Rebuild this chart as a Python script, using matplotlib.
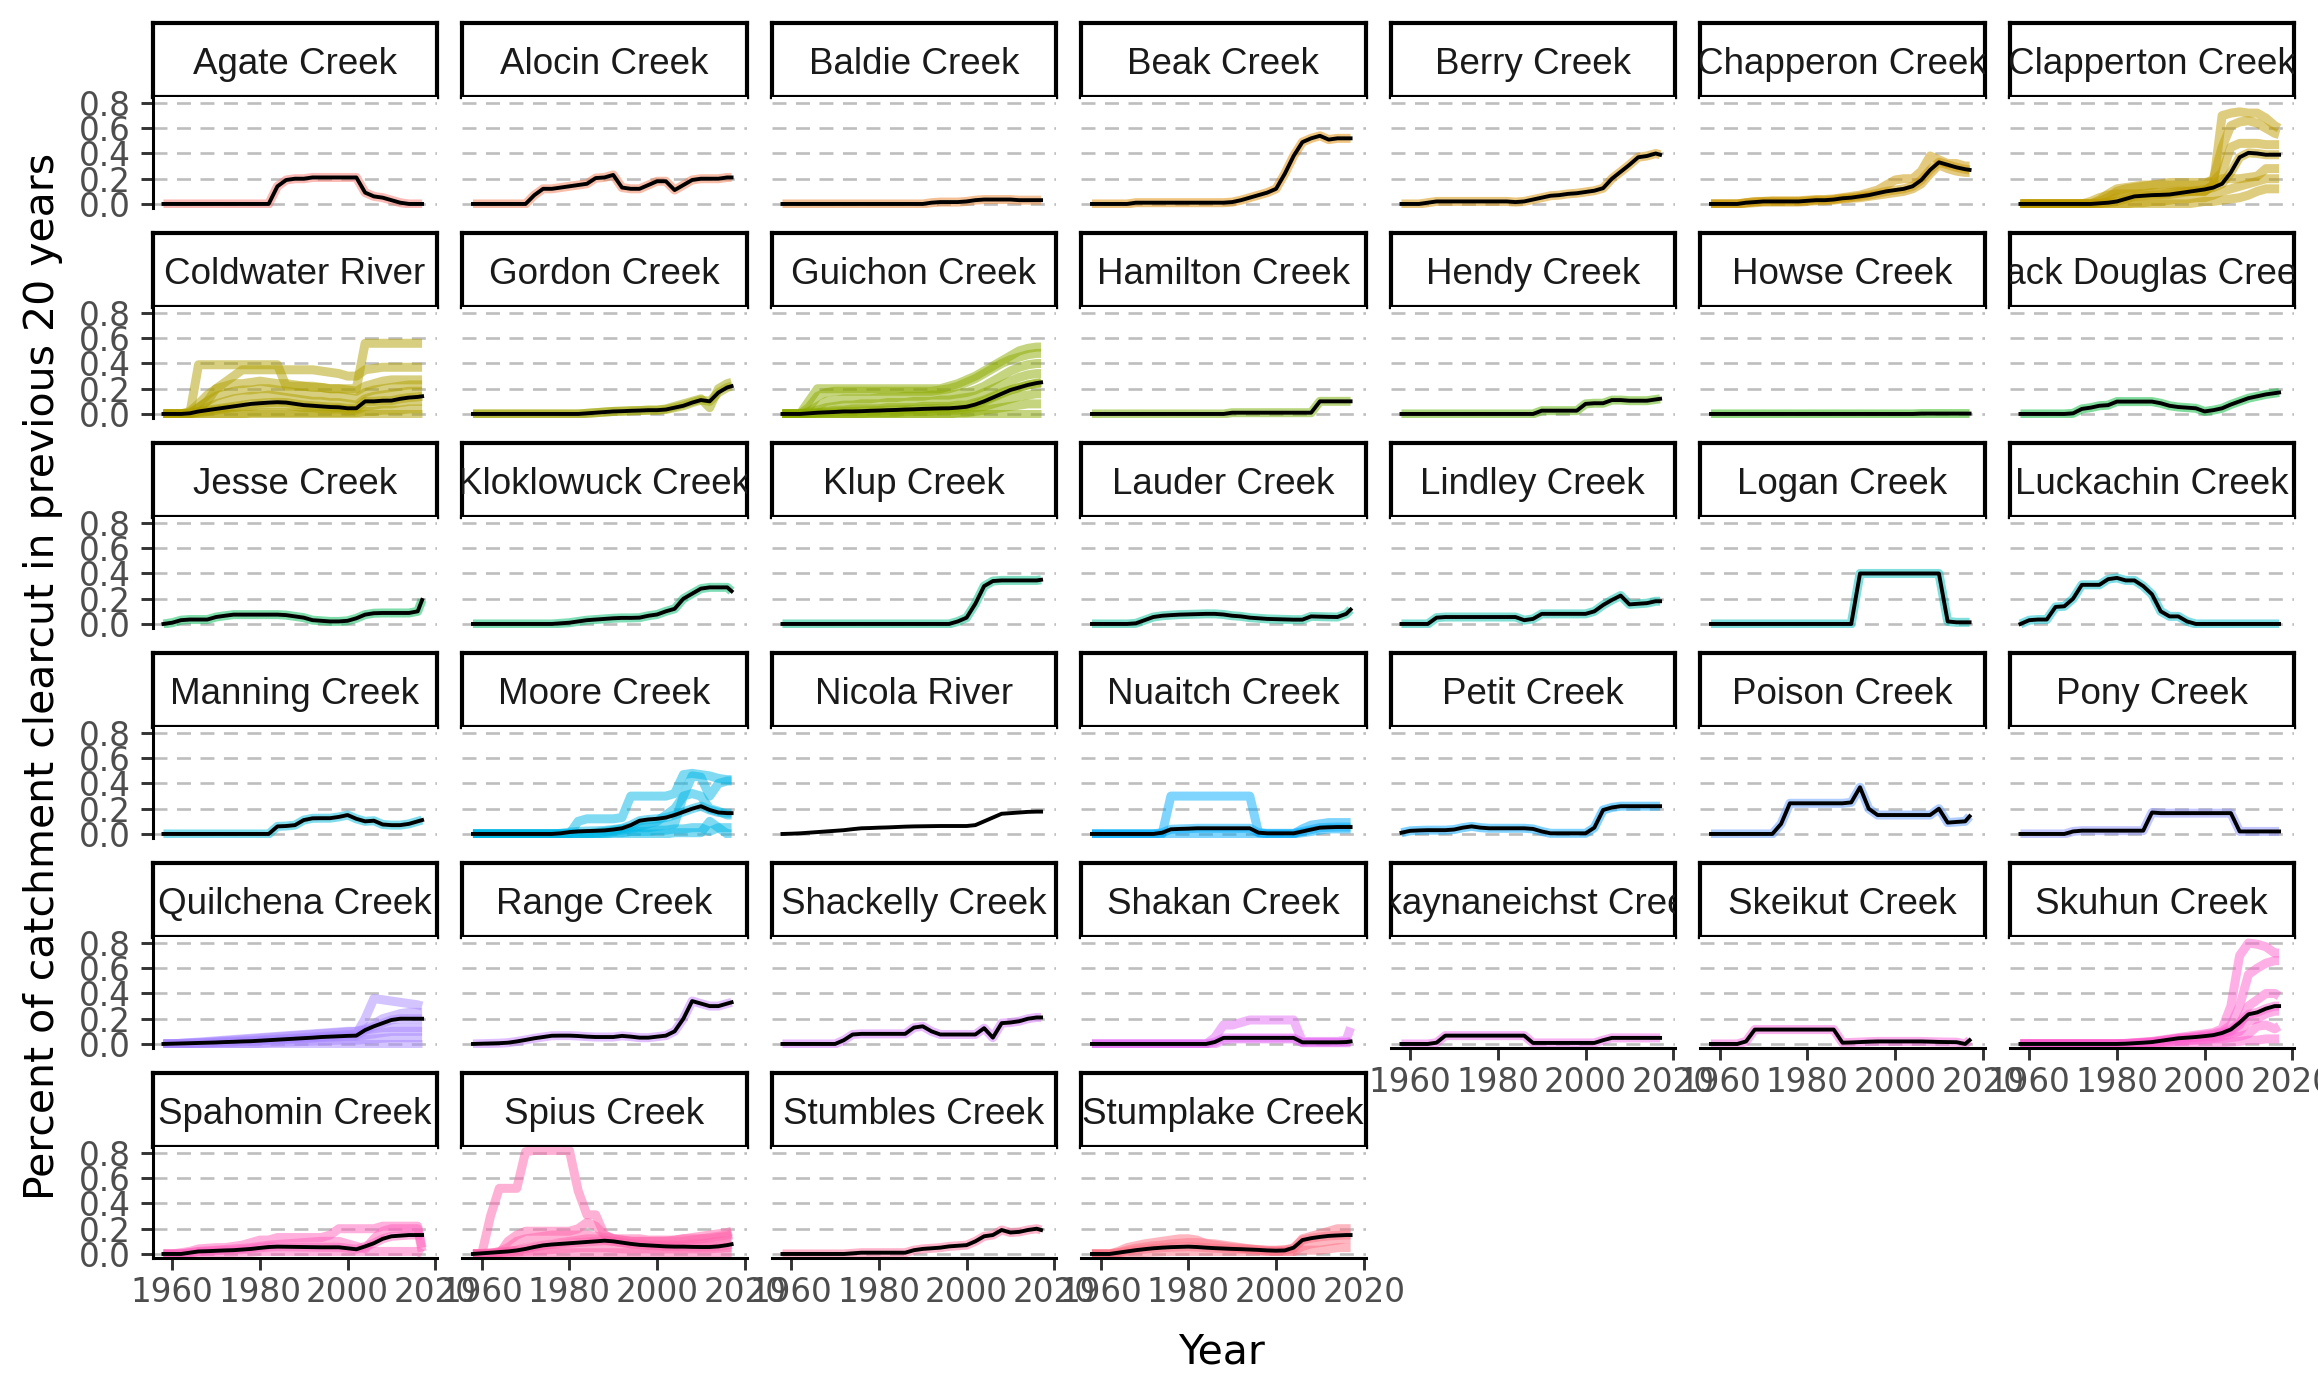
import numpy as np
import matplotlib
matplotlib.use("Agg")
import matplotlib.pyplot as plt

# shared year grid for every series
years = [1958, 1960, 1962, 1964, 1966, 1968, 1970, 1972, 1974, 1976,
         1978, 1980, 1982, 1984, 1986, 1988, 1990, 1992, 1994, 1996,
         1998, 2000, 2002, 2004, 2006, 2008, 2010, 2012, 2014, 2016,
         2017]

creeks = ["Agate Creek", "Alocin Creek", "Baldie Creek", "Beak Creek", "Berry Creek",
          "Chapperon Creek", "Clapperton Creek", "Coldwater River", "Gordon Creek",
          "Guichon Creek", "Hamilton Creek", "Hendy Creek", "Howse Creek",
          "Jack Douglas Creek", "Jesse Creek", "Kloklowuck Creek", "Klup Creek",
          "Lauder Creek", "Lindley Creek", "Logan Creek", "Luckachin Creek",
          "Manning Creek", "Moore Creek", "Nicola River", "Nuaitch Creek",
          "Petit Creek", "Poison Creek", "Pony Creek", "Quilchena Creek",
          "Range Creek", "Shackelly Creek", "Shakan Creek", "Skaynaneichst Creek",
          "Skeikut Creek", "Skuhun Creek", "Spahomin Creek", "Spius Creek",
          "Stumbles Creek", "Stumplake Creek"]

# catchment mean (black line) per creek
agate = [0, 0, 0, 0, 0, 0, 0, 0, 0, 0,
         0, 0, 0, 0.14, 0.19, 0.20, 0.20, 0.21, 0.21, 0.21,
         0.21, 0.21, 0.21, 0.09, 0.06, 0.05, 0.03, 0.01, 0, 0,
         0]
alocin = [0, 0, 0, 0, 0, 0, 0, 0.07, 0.12, 0.12,
          0.13, 0.14, 0.15, 0.16, 0.205, 0.21, 0.23, 0.13, 0.12, 0.12,
          0.15, 0.18, 0.18, 0.11, 0.15, 0.19, 0.2, 0.2, 0.2, 0.21,
          0.21]
baldie = [0, 0, 0, 0, 0, 0, 0, 0, 0, 0,
          0, 0, 0, 0, 0, 0, 0, 0.01, 0.015, 0.015,
          0.015, 0.02, 0.03, 0.035, 0.035, 0.035, 0.035, 0.03, 0.03, 0.03,
          0.03]
beak = [0, 0, 0, 0, 0, 0.01, 0.01, 0.01, 0.01, 0.01,
        0.01, 0.01, 0.01, 0.01, 0.01, 0.01, 0.015, 0.03, 0.05, 0.07,
        0.09, 0.12, 0.24, 0.38, 0.49, 0.52, 0.54, 0.51, 0.52, 0.52,
        0.52]
berry = [0, 0, 0, 0.01, 0.02, 0.02, 0.02, 0.02, 0.02, 0.02,
         0.02, 0.02, 0.02, 0.015, 0.02, 0.035, 0.05, 0.065, 0.07, 0.08,
         0.085, 0.095, 0.105, 0.125, 0.2, 0.255, 0.31, 0.37, 0.38, 0.4,
         0.39]
chapperon = [0, 0, 0, 0, 0.01, 0.015, 0.02, 0.02, 0.02, 0.02,
             0.02, 0.025, 0.03, 0.03, 0.035, 0.045, 0.05, 0.06, 0.07, 0.085,
             0.1, 0.11, 0.12, 0.14, 0.19, 0.27, 0.33, 0.31, 0.29, 0.275,
             0.27]
clapperton = [0, 0, 0, 0, 0, 0, 0, 0, 0, 0.005,
              0.01, 0.02, 0.04, 0.06, 0.065, 0.07, 0.072, 0.075, 0.085, 0.095,
              0.105, 0.115, 0.13, 0.16, 0.25, 0.37, 0.405, 0.4, 0.39, 0.39,
              0.39]
coldwater = [0, 0, 0, 0.005, 0.02, 0.03, 0.04, 0.05, 0.06, 0.07,
             0.08, 0.085, 0.09, 0.093, 0.09, 0.08, 0.07, 0.065, 0.06, 0.055,
             0.053, 0.045, 0.045, 0.1, 0.1, 0.105, 0.106, 0.12, 0.13, 0.135,
             0.14]
gordon = [0, 0, 0, 0, 0, 0, 0, 0, 0, 0,
          0, 0, 0, 0.005, 0.01, 0.015, 0.02, 0.022, 0.025, 0.027,
          0.03, 0.03, 0.035, 0.05, 0.065, 0.09, 0.11, 0.1, 0.17, 0.21,
          0.22]
guichon = [0, 0, 0, 0.005, 0.01, 0.013, 0.016, 0.02, 0.02, 0.022,
           0.025, 0.027, 0.03, 0.032, 0.035, 0.037, 0.04, 0.042, 0.044, 0.045,
           0.05, 0.057, 0.075, 0.1, 0.13, 0.16, 0.19, 0.21, 0.23, 0.245,
           0.25]
hamilton = [0, 0, 0, 0, 0, 0, 0, 0, 0, 0,
            0, 0, 0, 0, 0, 0, 0.01, 0.01, 0.01, 0.01,
            0.01, 0.01, 0.01, 0.01, 0.01, 0.01, 0.1, 0.1, 0.1, 0.1,
            0.1]
hendy = [0, 0, 0, 0, 0, 0, 0, 0, 0, 0,
         0, 0, 0, 0, 0, 0, 0.026, 0.026, 0.026, 0.026,
         0.026, 0.08, 0.085, 0.085, 0.11, 0.11, 0.105, 0.105, 0.105, 0.115,
         0.12]
howse = [0, 0, 0, 0, 0, 0, 0, 0, 0, 0,
         0, 0, 0, 0, 0, 0, 0, 0, 0, 0,
         0, 0, 0, 0, 0.003, 0.003, 0.003, 0.003, 0.003, 0.003,
         0.003]
jack_douglas = [0, 0, 0, 0, 0, 0, 0.005, 0.04, 0.05, 0.065,
                0.07, 0.098, 0.098, 0.098, 0.098, 0.098, 0.085, 0.065, 0.055, 0.05,
                0.045, 0.02, 0.03, 0.045, 0.075, 0.1, 0.125, 0.14, 0.155, 0.165,
                0.17]
jesse = [0, 0.01, 0.03, 0.035, 0.035, 0.035, 0.055, 0.065, 0.074, 0.074,
         0.074, 0.074, 0.074, 0.074, 0.07, 0.06, 0.05, 0.03, 0.025, 0.02,
         0.02, 0.025, 0.045, 0.074, 0.085, 0.087, 0.087, 0.087, 0.087, 0.1,
         0.19]
kloklowuck = [0, 0, 0, 0, 0, 0, 0, 0, 0, 0,
              0.005, 0.01, 0.02, 0.03, 0.035, 0.04, 0.045, 0.048, 0.048, 0.05,
              0.065, 0.075, 0.1, 0.12, 0.2, 0.24, 0.28, 0.29, 0.29, 0.29,
              0.26]
klup = [0, 0, 0, 0, 0, 0, 0, 0, 0, 0,
        0, 0, 0, 0, 0, 0, 0, 0, 0, 0,
        0.02, 0.05, 0.16, 0.3, 0.34, 0.345, 0.345, 0.345, 0.345, 0.345,
        0.35]
lauder = [0, 0, 0, 0, 0, 0.005, 0.03, 0.055, 0.065, 0.07,
          0.074, 0.076, 0.078, 0.08, 0.08, 0.075, 0.065, 0.06, 0.05, 0.045,
          0.04, 0.038, 0.036, 0.034, 0.034, 0.06, 0.058, 0.056, 0.055, 0.08,
          0.114]
lindley = [0, 0, 0, 0, 0.05, 0.055, 0.055, 0.055, 0.055, 0.055,
           0.055, 0.055, 0.055, 0.055, 0.03, 0.04, 0.08, 0.08, 0.08, 0.08,
           0.08, 0.08, 0.1, 0.15, 0.19, 0.225, 0.155, 0.16, 0.165, 0.18,
           0.18]
logan = [0, 0, 0, 0, 0, 0, 0, 0, 0, 0,
         0, 0, 0, 0, 0, 0, 0, 0.4, 0.4, 0.4,
         0.4, 0.4, 0.4, 0.4, 0.4, 0.4, 0.4, 0.02, 0.013, 0.013,
         0.013]
luckachin = [0, 0.03, 0.035, 0.035, 0.135, 0.14, 0.2, 0.31, 0.31, 0.31,
             0.355, 0.365, 0.345, 0.345, 0.3, 0.235, 0.1, 0.06, 0.06, 0.02,
             0, 0, 0, 0, 0, 0, 0, 0, 0, 0,
             0]
manning = [0, 0, 0, 0, 0, 0, 0, 0, 0, 0,
           0, 0, 0, 0.06, 0.063, 0.07, 0.11, 0.124, 0.125, 0.125,
           0.135, 0.15, 0.12, 0.1, 0.105, 0.075, 0.07, 0.07, 0.08, 0.1,
           0.11]
moore = [0, 0, 0, 0, 0, 0, 0, 0, 0, 0,
         0.005, 0.015, 0.02, 0.023, 0.025, 0.028, 0.035, 0.045, 0.07, 0.105,
         0.115, 0.12, 0.13, 0.15, 0.175, 0.2, 0.22, 0.19, 0.17, 0.165,
         0.165]
nicola = [0, 0.002, 0.005, 0.01, 0.015, 0.02, 0.025, 0.03, 0.038, 0.045,
          0.047, 0.05, 0.052, 0.055, 0.058, 0.06, 0.061, 0.062, 0.063, 0.063,
          0.063, 0.063, 0.07, 0.1, 0.13, 0.16, 0.165, 0.17, 0.175, 0.177,
          0.177]
nuaitch = [0, 0, 0, 0, 0, 0, 0, 0, 0.01, 0.037,
           0.04, 0.042, 0.045, 0.045, 0.045, 0.045, 0.045, 0.045, 0.045, 0.01,
           0.005, 0.005, 0.005, 0.005, 0.02, 0.035, 0.05, 0.053, 0.055, 0.055,
           0.055]
petit = [0.01, 0.025, 0.028, 0.03, 0.03, 0.03, 0.035, 0.05, 0.06, 0.05,
         0.045, 0.045, 0.045, 0.045, 0.045, 0.04, 0.02, 0.005, 0.005, 0.005,
         0.005, 0.005, 0.05, 0.19, 0.21, 0.22, 0.22, 0.22, 0.22, 0.22,
         0.22]
poison = [0, 0, 0, 0, 0, 0, 0, 0, 0.08, 0.243,
          0.243, 0.243, 0.243, 0.243, 0.243, 0.243, 0.25, 0.37, 0.2, 0.15,
          0.15, 0.15, 0.15, 0.15, 0.15, 0.15, 0.2, 0.09, 0.095, 0.1,
          0.14]
pony = [0, 0, 0, 0, 0, 0, 0.02, 0.026, 0.026, 0.026,
        0.026, 0.026, 0.026, 0.026, 0.026, 0.17, 0.165, 0.165, 0.165, 0.165,
        0.165, 0.165, 0.165, 0.165, 0.165, 0.02, 0.02, 0.02, 0.02, 0.02,
        0.02]
quilchena = [0, 0.002, 0.004, 0.006, 0.008, 0.01, 0.012, 0.015, 0.017, 0.02,
             0.022, 0.026, 0.03, 0.034, 0.038, 0.042, 0.046, 0.05, 0.055, 0.058,
             0.061, 0.064, 0.066, 0.11, 0.14, 0.165, 0.19, 0.2, 0.2, 0.2,
             0.2]
range_creek = [0, 0.002, 0.004, 0.006, 0.01, 0.02, 0.032, 0.045, 0.055, 0.065,
               0.066, 0.066, 0.063, 0.058, 0.055, 0.055, 0.055, 0.064, 0.058, 0.05,
               0.05, 0.058, 0.066, 0.1, 0.2, 0.34, 0.32, 0.3, 0.3, 0.32,
               0.33]
shackelly = [0, 0, 0, 0, 0, 0, 0, 0.03, 0.075, 0.08,
             0.08, 0.08, 0.08, 0.08, 0.08, 0.13, 0.14, 0.1, 0.075, 0.075,
             0.075, 0.075, 0.075, 0.125, 0.05, 0.165, 0.17, 0.18, 0.2, 0.21,
             0.21]
shakan = [0, 0, 0, 0, 0, 0, 0, 0, 0, 0,
          0, 0, 0, 0, 0.015, 0.048, 0.048, 0.048, 0.048, 0.048,
          0.048, 0.048, 0.048, 0.048, 0.013, 0.013, 0.013, 0.013, 0.013, 0.015,
          0.02]
skaynaneichst = [0, 0, 0, 0, 0.01, 0.066, 0.066, 0.066, 0.066, 0.066,
                 0.066, 0.066, 0.066, 0.066, 0.066, 0.008, 0.008, 0.008, 0.008, 0.008,
                 0.008, 0.008, 0.008, 0.03, 0.048, 0.048, 0.048, 0.048, 0.048, 0.048,
                 0.048]
skeikut = [0, 0, 0, 0, 0.02, 0.114, 0.114, 0.114, 0.114, 0.114,
           0.114, 0.114, 0.114, 0.114, 0.114, 0.01, 0.012, 0.015, 0.018, 0.02,
           0.02, 0.02, 0.02, 0.02, 0.02, 0.018, 0.016, 0.015, 0.014, 0.0,
           0.03]
skuhun = [0, 0, 0, 0, 0, 0, 0, 0, 0, 0,
          0, 0, 0.002, 0.006, 0.01, 0.015, 0.025, 0.035, 0.045, 0.05,
          0.055, 0.062, 0.07, 0.087, 0.115, 0.17, 0.235, 0.25, 0.28, 0.3,
          0.3]
spahomin = [0, 0, 0, 0.01, 0.02, 0.022, 0.025, 0.028, 0.03, 0.035,
            0.04, 0.048, 0.055, 0.058, 0.057, 0.056, 0.055, 0.054, 0.053, 0.053,
            0.053, 0.045, 0.037, 0.06, 0.085, 0.12, 0.14, 0.145, 0.15, 0.15,
            0.15]
spius = [0, 0.005, 0.01, 0.015, 0.02, 0.028, 0.04, 0.055, 0.068, 0.075,
         0.08, 0.085, 0.09, 0.095, 0.1, 0.105, 0.1, 0.09, 0.08, 0.072,
         0.068, 0.064, 0.06, 0.058, 0.058, 0.056, 0.055, 0.055, 0.06, 0.07,
         0.077]
stumbles = [0, 0, 0, 0, 0, 0, 0, 0, 0.005, 0.01,
            0.01, 0.01, 0.01, 0.01, 0.01, 0.03, 0.04, 0.045, 0.05, 0.06,
            0.065, 0.07, 0.1, 0.14, 0.15, 0.19, 0.17, 0.175, 0.19, 0.2,
            0.19]
stumplake = [0, 0, 0, 0.01, 0.02, 0.03, 0.038, 0.045, 0.05, 0.054,
             0.056, 0.058, 0.055, 0.05, 0.046, 0.043, 0.04, 0.038, 0.035, 0.032,
             0.028, 0.026, 0.028, 0.05, 0.11, 0.125, 0.135, 0.143, 0.147, 0.15,
             0.15]

means = [agate, alocin, baldie, beak, berry, chapperon, clapperton, coldwater,
         gordon, guichon, hamilton, hendy, howse, jack_douglas, jesse, kloklowuck,
         klup, lauder, lindley, logan, luckachin, manning, moore, nicola, nuaitch,
         petit, poison, pony, quilchena, range_creek, shackelly, shakan,
         skaynaneichst, skeikut, skuhun, spahomin, spius, stumbles, stumplake]

# extra sub-basin series (coloured lines) for the creeks that have them
chapperon_subs = [
    [0, 0, 0, 0, 0.01, 0.02, 0.02, 0.025, 0.025, 0.025,
     0.025, 0.03, 0.035, 0.035, 0.04, 0.05, 0.06, 0.07, 0.09, 0.11,
     0.15, 0.19, 0.2, 0.2, 0.26, 0.38, 0.35, 0.32, 0.32, 0.3, 0.3],
    [0, 0, 0, 0, 0.005, 0.01, 0.015, 0.015, 0.015, 0.015,
     0.015, 0.02, 0.025, 0.025, 0.03, 0.04, 0.045, 0.05, 0.06, 0.07,
     0.08, 0.09, 0.1, 0.12, 0.16, 0.24, 0.31, 0.28, 0.26, 0.25, 0.25],
]
clapperton_subs = [
    [0, 0, 0, 0, 0, 0, 0, 0, 0.02, 0.05,
     0.07, 0.08, 0.08, 0.08, 0.08, 0.09, 0.09, 0.1, 0.1, 0.1,
     0.1, 0.1, 0.15, 0.7, 0.72, 0.73, 0.72, 0.72, 0.68, 0.62, 0.6],
    [0, 0, 0, 0, 0, 0, 0, 0, 0, 0.03,
     0.08, 0.12, 0.13, 0.14, 0.15, 0.15, 0.15, 0.15, 0.15, 0.15,
     0.15, 0.15, 0.2, 0.45, 0.62, 0.65, 0.66, 0.64, 0.6, 0.56, 0.55],
    [0, 0, 0, 0, 0, 0, 0, 0, 0, 0.02,
     0.05, 0.1, 0.12, 0.13, 0.14, 0.15, 0.16, 0.17, 0.17, 0.17,
     0.17, 0.17, 0.18, 0.25, 0.45, 0.48, 0.48, 0.48, 0.47, 0.47, 0.47],
    [0, 0, 0, 0, 0, 0, 0, 0, 0, 0,
     0.02, 0.05, 0.06, 0.07, 0.08, 0.08, 0.08, 0.09, 0.1, 0.1,
     0.1, 0.1, 0.15, 0.2, 0.2, 0.2, 0.21, 0.22, 0.28, 0.28, 0.28],
    [0, 0, 0, 0, 0, 0, 0, 0, 0, 0,
     0, 0, 0, 0.01, 0.01, 0.02, 0.02, 0.03, 0.04, 0.04,
     0.05, 0.05, 0.07, 0.1, 0.12, 0.14, 0.16, 0.18, 0.2, 0.2, 0.2],
    [0, 0, 0, 0, 0, 0, 0, 0, 0, 0,
     0, 0, 0, 0, 0, 0, 0, 0, 0, 0,
     0.01, 0.02, 0.02, 0.03, 0.04, 0.05, 0.07, 0.1, 0.12, 0.12, 0.12],
]
coldwater_subs = [
    [0, 0, 0, 0, 0.39, 0.39, 0.39, 0.39, 0.39, 0.39,
     0.39, 0.39, 0.39, 0.39, 0.22, 0.22, 0.22, 0.21, 0.21, 0.2,
     0.2, 0.2, 0.2, 0.56, 0.56, 0.56, 0.56, 0.56, 0.56, 0.56, 0.56],
    [0, 0, 0, 0, 0.05, 0.1, 0.2, 0.25, 0.3, 0.35,
     0.35, 0.35, 0.35, 0.35, 0.35, 0.35, 0.35, 0.35, 0.34, 0.33,
     0.32, 0.3, 0.3, 0.35, 0.36, 0.37, 0.37, 0.37, 0.37, 0.37, 0.37],
    [0, 0, 0, 0.02, 0.08, 0.15, 0.2, 0.22, 0.24, 0.24,
     0.25, 0.26, 0.25, 0.24, 0.24, 0.23, 0.22, 0.22, 0.21, 0.2,
     0.2, 0.19, 0.18, 0.22, 0.24, 0.26, 0.27, 0.27, 0.27, 0.27, 0.27],
    [0, 0, 0, 0.01, 0.05, 0.1, 0.14, 0.16, 0.18, 0.19,
     0.19, 0.2, 0.2, 0.19, 0.18, 0.17, 0.16, 0.15, 0.15, 0.14,
     0.14, 0.13, 0.12, 0.17, 0.19, 0.2, 0.21, 0.22, 0.23, 0.23, 0.23],
    [0, 0, 0, 0, 0.02, 0.05, 0.08, 0.1, 0.12, 0.13,
     0.14, 0.14, 0.15, 0.14, 0.13, 0.12, 0.11, 0.1, 0.1, 0.09,
     0.09, 0.08, 0.07, 0.12, 0.14, 0.15, 0.16, 0.17, 0.18, 0.18, 0.18],
    [0, 0, 0, 0, 0.01, 0.02, 0.03, 0.04, 0.05, 0.06,
     0.06, 0.07, 0.07, 0.07, 0.07, 0.06, 0.05, 0.05, 0.04, 0.04,
     0.04, 0.03, 0.03, 0.06, 0.07, 0.08, 0.08, 0.09, 0.1, 0.1, 0.1],
    [0, 0, 0, 0, 0, 0, 0, 0, 0, 0,
     0.01, 0.01, 0.01, 0.01, 0.01, 0.01, 0.01, 0.01, 0.01, 0.01,
     0.01, 0.01, 0.01, 0.02, 0.02, 0.03, 0.03, 0.03, 0.04, 0.04, 0.04],
    [0, 0, 0, 0, 0, 0, 0, 0, 0, 0,
     0, 0, 0, 0, 0, 0, 0, 0, 0, 0,
     0, 0, 0, 0, 0, 0, 0, 0, 0, 0, 0],
]
gordon_subs = [
    [0, 0, 0, 0, 0, 0, 0, 0, 0, 0,
     0, 0, 0, 0.005, 0.01, 0.015, 0.02, 0.022, 0.025, 0.027,
     0.03, 0.03, 0.04, 0.06, 0.08, 0.1, 0.12, 0.05, 0.2, 0.24, 0.25],
]
guichon_subs = [
    [0, 0, 0, 0.1, 0.2, 0.2, 0.2, 0.2, 0.2, 0.2,
     0.2, 0.2, 0.2, 0.2, 0.2, 0.2, 0.2, 0.2, 0.2, 0.22,
     0.24, 0.27, 0.3, 0.34, 0.38, 0.42, 0.46, 0.5, 0.52, 0.53, 0.53],
    [0, 0, 0, 0.05, 0.14, 0.17, 0.18, 0.18, 0.18, 0.18,
     0.18, 0.18, 0.18, 0.18, 0.18, 0.18, 0.18, 0.18, 0.19, 0.2,
     0.22, 0.25, 0.28, 0.32, 0.36, 0.4, 0.43, 0.45, 0.47, 0.48, 0.48],
    [0, 0, 0, 0.02, 0.06, 0.1, 0.11, 0.12, 0.12, 0.12,
     0.12, 0.13, 0.13, 0.13, 0.14, 0.14, 0.14, 0.15, 0.15, 0.15,
     0.16, 0.17, 0.19, 0.22, 0.26, 0.3, 0.34, 0.37, 0.39, 0.4, 0.4],
    [0, 0, 0, 0.01, 0.03, 0.05, 0.06, 0.07, 0.07, 0.08,
     0.08, 0.08, 0.09, 0.09, 0.09, 0.1, 0.1, 0.1, 0.11, 0.11,
     0.12, 0.13, 0.14, 0.17, 0.2, 0.23, 0.26, 0.29, 0.31, 0.32, 0.32],
    [0, 0, 0, 0, 0.01, 0.02, 0.03, 0.03, 0.04, 0.04,
     0.04, 0.04, 0.05, 0.05, 0.05, 0.05, 0.06, 0.06, 0.06, 0.06,
     0.07, 0.07, 0.09, 0.11, 0.14, 0.17, 0.19, 0.21, 0.23, 0.24, 0.24],
    [0, 0, 0, 0, 0, 0, 0, 0, 0, 0,
     0.01, 0.01, 0.01, 0.01, 0.02, 0.02, 0.02, 0.02, 0.03, 0.03,
     0.03, 0.04, 0.05, 0.06, 0.08, 0.1, 0.12, 0.14, 0.15, 0.16, 0.16],
    [0, 0, 0, 0, 0, 0, 0, 0, 0, 0,
     0, 0, 0, 0, 0, 0, 0, 0, 0, 0,
     0.01, 0.01, 0.02, 0.03, 0.04, 0.05, 0.06, 0.07, 0.08, 0.08, 0.08],
    [0, 0, 0, 0, 0, 0, 0, 0, 0, 0,
     0, 0, 0, 0, 0, 0, 0, 0, 0, 0,
     0, 0, 0, 0, 0, 0, 0, 0, 0, 0, 0],
]
moore_subs = [
    [0, 0, 0, 0, 0, 0, 0, 0, 0, 0,
     0, 0, 0.1, 0.12, 0.12, 0.12, 0.12, 0.13, 0.3, 0.3,
     0.3, 0.3, 0.3, 0.32, 0.47, 0.48, 0.47, 0.46, 0.44, 0.43, 0.43],
    [0, 0, 0, 0, 0, 0, 0, 0, 0, 0,
     0, 0, 0, 0, 0.01, 0.02, 0.03, 0.04, 0.05, 0.06,
     0.08, 0.1, 0.15, 0.2, 0.3, 0.46, 0.45, 0.3, 0.4, 0.42, 0.42],
    [0, 0, 0, 0, 0, 0, 0, 0, 0, 0,
     0, 0, 0, 0, 0, 0.01, 0.02, 0.03, 0.04, 0.05,
     0.05, 0.06, 0.07, 0.08, 0.3, 0.32, 0.3, 0.2, 0.18, 0.15, 0.15],
    [0, 0, 0, 0, 0, 0, 0, 0, 0, 0,
     0, 0, 0, 0, 0, 0, 0.01, 0.01, 0.02, 0.02,
     0.02, 0.03, 0.03, 0.04, 0.04, 0.05, 0.05, 0.02, 0.05, 0.05, 0.05],
    [0, 0, 0, 0, 0, 0, 0, 0, 0, 0,
     0, 0, 0, 0, 0, 0, 0, 0, 0, 0,
     0, 0, 0, 0.01, 0.01, 0.01, 0.01, 0.1, 0.05, 0, 0],
]
nuaitch_subs = [
    [0, 0, 0, 0, 0, 0, 0, 0, 0, 0.3,
     0.3, 0.3, 0.3, 0.3, 0.3, 0.3, 0.3, 0.3, 0.3, 0.01,
     0, 0, 0, 0, 0.04, 0.07, 0.08, 0.09, 0.09, 0.09, 0.09],
    [0, 0, 0, 0, 0, 0, 0, 0, 0, 0,
     0, 0, 0, 0, 0, 0, 0, 0, 0, 0,
     0, 0, 0, 0, 0.01, 0.02, 0.03, 0.04, 0.04, 0.04, 0.04],
]
quilchena_subs = [
    [0, 0.002, 0.005, 0.008, 0.01, 0.012, 0.015, 0.02, 0.022, 0.025,
     0.028, 0.032, 0.036, 0.04, 0.044, 0.048, 0.052, 0.056, 0.06, 0.065,
     0.07, 0.075, 0.08, 0.2, 0.36, 0.35, 0.34, 0.33, 0.32, 0.31, 0.3],
    [0, 0, 0.005, 0.01, 0.015, 0.02, 0.025, 0.03, 0.035, 0.04,
     0.045, 0.05, 0.055, 0.06, 0.065, 0.07, 0.075, 0.08, 0.085, 0.09,
     0.095, 0.1, 0.1, 0.12, 0.16, 0.2, 0.22, 0.24, 0.25, 0.25, 0.25],
    [0, 0, 0, 0.005, 0.01, 0.015, 0.02, 0.025, 0.03, 0.035,
     0.04, 0.045, 0.05, 0.055, 0.06, 0.065, 0.07, 0.075, 0.08, 0.085,
     0.09, 0.095, 0.1, 0.11, 0.12, 0.13, 0.13, 0.13, 0.13, 0.13, 0.13],
    [0, 0, 0, 0, 0, 0.005, 0.01, 0.012, 0.015, 0.018,
     0.02, 0.025, 0.03, 0.033, 0.036, 0.04, 0.043, 0.046, 0.05, 0.053,
     0.056, 0.06, 0.06, 0.07, 0.08, 0.09, 0.1, 0.1, 0.1, 0.1, 0.1],
    [0, 0, 0, 0, 0, 0, 0, 0, 0, 0,
     0, 0.005, 0.01, 0.012, 0.015, 0.018, 0.02, 0.022, 0.025, 0.027,
     0.03, 0.03, 0.03, 0.035, 0.04, 0.045, 0.05, 0.05, 0.05, 0.05, 0.05],
    [0, 0, 0, 0, 0, 0, 0, 0, 0, 0,
     0, 0, 0, 0, 0, 0, 0, 0, 0, 0,
     0, 0, 0, 0, 0, 0, 0, 0, 0, 0, 0],
]
shakan_subs = [
    [0, 0, 0, 0, 0, 0, 0, 0, 0, 0,
     0, 0, 0, 0, 0.05, 0.15, 0.15, 0.17, 0.19, 0.19,
     0.19, 0.19, 0.19, 0.19, 0.02, 0.02, 0.02, 0.02, 0.02, 0.03, 0.13],
    [0, 0, 0, 0, 0, 0, 0, 0, 0, 0,
     0, 0, 0, 0, 0, 0.03, 0.04, 0.04, 0.04, 0.04,
     0.04, 0.04, 0.04, 0.04, 0.01, 0.01, 0.01, 0.01, 0.01, 0.01, 0.01],
]
skuhun_subs = [
    [0, 0, 0, 0, 0, 0, 0, 0, 0, 0,
     0, 0, 0.005, 0.01, 0.015, 0.02, 0.03, 0.04, 0.05, 0.06,
     0.07, 0.08, 0.09, 0.12, 0.3, 0.7, 0.8, 0.79, 0.77, 0.72, 0.72],
    [0, 0, 0, 0, 0, 0, 0, 0, 0, 0,
     0, 0, 0.003, 0.008, 0.012, 0.017, 0.025, 0.035, 0.045, 0.05,
     0.06, 0.07, 0.08, 0.1, 0.15, 0.3, 0.55, 0.6, 0.64, 0.66, 0.66],
    [0, 0, 0, 0, 0, 0, 0, 0, 0, 0,
     0, 0, 0, 0.005, 0.01, 0.015, 0.02, 0.03, 0.04, 0.045,
     0.05, 0.055, 0.06, 0.08, 0.1, 0.15, 0.3, 0.35, 0.4, 0.4, 0.38],
    [0, 0, 0, 0, 0, 0, 0, 0, 0, 0,
     0, 0, 0, 0.003, 0.006, 0.01, 0.015, 0.02, 0.025, 0.03,
     0.035, 0.04, 0.045, 0.06, 0.08, 0.1, 0.18, 0.2, 0.24, 0.26, 0.26],
    [0, 0, 0, 0, 0, 0, 0, 0, 0, 0,
     0, 0, 0, 0, 0.003, 0.006, 0.01, 0.015, 0.02, 0.025,
     0.03, 0.035, 0.04, 0.04, 0.05, 0.06, 0.08, 0.14, 0.15, 0.12, 0.14],
    [0, 0, 0, 0, 0, 0, 0, 0, 0, 0,
     0, 0, 0, 0, 0, 0, 0, 0, 0, 0,
     0, 0, 0.005, 0.01, 0.015, 0.02, 0.03, 0.03, 0.04, 0.04, 0.04],
]
spahomin_subs = [
    [0, 0, 0.01, 0.02, 0.04, 0.045, 0.05, 0.05, 0.06, 0.07,
     0.09, 0.11, 0.11, 0.13, 0.13, 0.13, 0.13, 0.13, 0.13, 0.15,
     0.2, 0.2, 0.2, 0.2, 0.2, 0.22, 0.22, 0.22, 0.22, 0.22, 0.05],
    [0, 0, 0, 0.01, 0.02, 0.025, 0.03, 0.035, 0.04, 0.045,
     0.05, 0.06, 0.07, 0.075, 0.08, 0.085, 0.09, 0.095, 0.1, 0.1,
     0.1, 0.08, 0.06, 0.04, 0.12, 0.18, 0.2, 0.2, 0.2, 0.2, 0.02],
    [0, 0, 0, 0, 0.005, 0.01, 0.01, 0.01, 0.012, 0.015,
     0.015, 0.02, 0.02, 0.02, 0.02, 0.02, 0.02, 0.02, 0.02, 0.02,
     0.02, 0.02, 0.02, 0.02, 0.02, 0.02, 0.02, 0.02, 0.02, 0.02, 0],
]
spius_subs = [
    [0, 0, 0.3, 0.52, 0.52, 0.52, 0.81, 0.82, 0.82, 0.82,
     0.82, 0.82, 0.5, 0.31, 0.31, 0.15, 0.12, 0.12, 0.12, 0.12,
     0.11, 0.11, 0.11, 0.11, 0.12, 0.12, 0.12, 0.12, 0.13, 0.14, 0.15],
    [0, 0, 0, 0, 0.1, 0.15, 0.18, 0.18, 0.18, 0.18,
     0.18, 0.18, 0.2, 0.25, 0.22, 0.15, 0.12, 0.11, 0.1, 0.1,
     0.1, 0.1, 0.1, 0.1, 0.1, 0.11, 0.12, 0.13, 0.14, 0.15, 0.16],
    [0, 0, 0, 0.02, 0.05, 0.1, 0.12, 0.13, 0.14, 0.15,
     0.15, 0.15, 0.15, 0.15, 0.14, 0.13, 0.12, 0.11, 0.1, 0.1,
     0.1, 0.1, 0.1, 0.11, 0.12, 0.13, 0.14, 0.15, 0.16, 0.17, 0.18],
    [0, 0, 0.005, 0.01, 0.02, 0.03, 0.05, 0.06, 0.07, 0.08,
     0.09, 0.1, 0.11, 0.12, 0.12, 0.11, 0.1, 0.09, 0.08, 0.08,
     0.07, 0.07, 0.07, 0.07, 0.07, 0.08, 0.08, 0.09, 0.1, 0.1, 0.11],
    [0, 0, 0, 0.005, 0.01, 0.015, 0.02, 0.025, 0.03, 0.035,
     0.04, 0.045, 0.05, 0.05, 0.05, 0.05, 0.045, 0.04, 0.04, 0.04,
     0.04, 0.04, 0.04, 0.04, 0.04, 0.04, 0.04, 0.04, 0.045, 0.05, 0.05],
    [0, 0, 0, 0, 0, 0.01, 0.01, 0.01, 0.01, 0.01,
     0.01, 0.01, 0.01, 0.01, 0.01, 0.01, 0.01, 0.01, 0.01, 0.01,
     0.01, 0.01, 0.01, 0.01, 0.01, 0.01, 0.01, 0.01, 0.01, 0.01, 0.01],
]
stumplake_subs = [
    [0, 0, 0, 0.02, 0.05, 0.065, 0.08, 0.09, 0.1, 0.11,
     0.12, 0.12, 0.11, 0.08, 0.07, 0.06, 0.05, 0.045, 0.04, 0.035,
     0.03, 0.03, 0.035, 0.04, 0.12, 0.14, 0.16, 0.18, 0.2, 0.2, 0.2],
    [0, 0, 0, 0.01, 0.03, 0.045, 0.055, 0.065, 0.07, 0.08,
     0.085, 0.09, 0.09, 0.085, 0.08, 0.07, 0.06, 0.05, 0.04, 0.03,
     0.02, 0.02, 0.02, 0.02, 0.06, 0.08, 0.09, 0.1, 0.11, 0.12, 0.12],
    [0, 0, 0, 0, 0.005, 0.01, 0.012, 0.015, 0.018, 0.02,
     0.02, 0.02, 0.02, 0.02, 0.02, 0.02, 0.02, 0.02, 0.02, 0.02,
     0.02, 0.02, 0.02, 0.02, 0.03, 0.03, 0.03, 0.04, 0.05, 0.05, 0.05],
]

extra_subs = {
    "Chapperon Creek": chapperon_subs,
    "Clapperton Creek": clapperton_subs,
    "Coldwater River": coldwater_subs,
    "Gordon Creek": gordon_subs,
    "Guichon Creek": guichon_subs,
    "Moore Creek": moore_subs,
    "Nuaitch Creek": nuaitch_subs,
    "Quilchena Creek": quilchena_subs,
    "Shakan Creek": shakan_subs,
    "Skuhun Creek": skuhun_subs,
    "Spahomin Creek": spahomin_subs,
    "Spius Creek": spius_subs,
    "Stumplake Creek": stumplake_subs,
}
no_colour = ["Nicola River"]


def hcl_hex(h, c=100.0, l=65.0):
    # polar Luv -> sRGB, same as R's hcl() used by ggplot's hue palette
    hr = np.radians(h)
    u, v = c * np.cos(hr), c * np.sin(hr)
    y = ((l + 16) / 116) ** 3
    un, vn = 0.1978398, 0.4683363
    up = u / (13 * l) + un
    vp = v / (13 * l) + vn
    x = 9 * y * up / (4 * vp)
    z = y * (12 - 3 * up - 20 * vp) / (4 * vp)
    r = 3.240479 * x - 1.537150 * y - 0.498535 * z
    g = -0.969256 * x + 1.875992 * y + 0.041556 * z
    b = 0.055648 * x - 0.204043 * y + 1.057311 * z
    out = []
    for ch in (r, g, b):
        ch = 12.92 * ch if ch <= 0.0031308 else 1.055 * ch ** (1 / 2.4) - 0.055
        out.append(min(max(ch, 0), 1))
    return tuple(out)


colors = [hcl_hex(h) for h in np.linspace(15, 375, len(creeks) + 1)[:-1]]

W, H = 2318, 1396
fig = plt.figure(figsize=(W / 100, H / 100), dpi=100)


def rect(left, top, w, h):
    return [left / W, 1 - (top + h) / H, w / W, h / H]


ncol = 7
for k, name in enumerate(creeks):
    r, c = divmod(k, ncol)
    left = 152.5 + 309.5 * c
    top = 23 + 210 * r

    sax = fig.add_axes(rect(left, top, 284.5, 74))
    sax.set_xticks([])
    sax.set_yticks([])
    for sp in sax.spines.values():
        sp.set_linewidth(3.0)
        sp.set_color("black")
    sax.text(0.5, 0.31, name, ha="center", va="baseline", transform=sax.transAxes,
             fontsize=26.5, family="Liberation Sans", color="#1A1A1A", clip_on=True)

    ax = fig.add_axes(rect(left, top + 74, 284.5, 111))
    ax.set_xlim(1955.5, 2020.4)
    ax.set_ylim(-0.032, 0.8475)
    ax.set_yticks([0, 0.2, 0.4, 0.6, 0.8])
    ax.set_yticklabels(["0.0", "0.2", "0.4", "0.6", "0.8"])
    ax.set_xticks([1960, 1980, 2000, 2020])
    ax.set_axisbelow(True)
    ax.yaxis.grid(True, color="#BEBEBE", linewidth=1.9, linestyle=(0, (5.3, 3.6)))
    for side in ("top", "right"):
        ax.spines[side].set_visible(False)

    col = colors[k]
    if name not in no_colour:
        for s in [means[k]] + extra_subs.get(name, []):
            ax.plot(years, s, color=col, alpha=0.5, lw=6.5, solid_capstyle="butt")
    ax.plot(years, means[k], color="black", lw=2.8)

    if c == 0:
        ax.spines["left"].set_linewidth(2.2)
        ax.spines["left"].set_color("black")
        ax.tick_params(axis="y", length=8.5, width=2.1, color="#333333",
                       labelsize=23.5, labelcolor="#4D4D4D", pad=7)
    else:
        ax.spines["left"].set_visible(False)
        ax.tick_params(axis="y", left=False, labelleft=False)

    bottom_panel = (r == 5) or (r == 4 and c >= 4)
    if bottom_panel:
        ax.spines["bottom"].set_linewidth(2.2)
        ax.spines["bottom"].set_color("black")
        ax.tick_params(axis="x", length=8.5, width=2.1, color="#333333",
                       labelsize=23.5, labelcolor="#4D4D4D", pad=4.5)
    else:
        ax.spines["bottom"].set_visible(False)
        ax.tick_params(axis="x", bottom=False, labelbottom=False)

fig.text(1222 / W, 1 - 1363 / H, "Year", ha="center", va="baseline", fontsize=29.5)
fig.text(43 / W, 1 - 676 / H, "Percent of catchment clearcut in previous 20 years",
         rotation=90, ha="center", va="center", fontsize=29.5)

fig.savefig("out.png", dpi=100)
